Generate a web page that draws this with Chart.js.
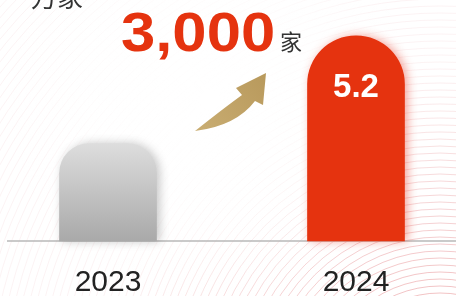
<!DOCTYPE html>
<html>
<head>
<meta charset="utf-8">
<script src="https://cdn.jsdelivr.net/npm/chart.js@4.4.1/dist/chart.umd.min.js"></script>
<style>
  html, body { margin: 0; padding: 0; background: #fff; }
  #wrap { width: 456px; height: 296px; position: relative; }
</style>
</head>
<body>
<div id="wrap"><canvas id="growthChart"></canvas></div>
<script>
// 数据
const years = ['2023', '2024'];
const counts = [4.9, 5.2];          // 万家
const unitLabel = '万家';
const growthText = '3,000';
const growthUnit = '家';

const Y_MIN = 4.628;
const Y_MAX = 5.25;
const RED = '#e5330f';
const CJK = "'Noto Sans CJK SC', sans-serif";
const LATIN = "'Liberation Sans', Arial, sans-serif";

// 背景同心圆 + 底线 + 标注
const decoPlugin = {
    id: 'deco',
    beforeDraw(chart) {
        const ctx = chart.ctx;
        ctx.save();
        ctx.lineWidth = 0.9;
        for (let r = 30; r < 600; r += 7) {
            const a = Math.max(0.07, 0.5 - r / 800);
            ctx.strokeStyle = 'rgba(215, 70, 75,' + a + ')';
            ctx.beginPath();
            ctx.arc(440, 400, r, 0, Math.PI * 2);
            ctx.stroke();
        }
        // 柔化中间区域
        const g = ctx.createRadialGradient(210, 100, 10, 210, 100, 200);
        g.addColorStop(0, 'rgba(255,255,255,0.97)');
        g.addColorStop(0.6, 'rgba(255,255,255,0.65)');
        g.addColorStop(1, 'rgba(255,255,255,0)');
        ctx.fillStyle = g;
        ctx.fillRect(0, 0, chart.width, chart.height);
        ctx.restore();
    },
    beforeDatasetsDraw(chart) {
        const ctx = chart.ctx;
        const y0 = chart.scales.y.getPixelForValue(Y_MIN);
        ctx.save();
        ctx.strokeStyle = '#b8b8b8';
        ctx.lineWidth = 1.5;
        ctx.beginPath();
        ctx.moveTo(7, y0);
        ctx.lineTo(chart.width, y0);
        ctx.stroke();
        ctx.restore();
    },
    afterDatasetsDraw(chart) {
        const ctx = chart.ctx;
        ctx.save();
        // 单位
        ctx.fillStyle = '#333';
        ctx.font = '26px ' + CJK;
        ctx.textBaseline = 'alphabetic';
        ctx.fillText(unitLabel, 31, 7);

        // 增长数字
        ctx.save();
        ctx.translate(121, 51);
        ctx.scale(1.1, 1);
        ctx.fillStyle = RED;
        ctx.font = 'bold 56px ' + LATIN;
        ctx.fillText(growthText, 0, 0);
        ctx.restore();
        ctx.fillStyle = '#333';
        ctx.font = '22px ' + CJK;
        ctx.fillText(growthUnit, 280, 50);

        // 金色箭头
        const ag = ctx.createLinearGradient(195, 130, 266, 73);
        ag.addColorStop(0, '#c9ad72');
        ag.addColorStop(1, '#b8995c');
        ctx.fillStyle = ag;
        ctx.beginPath();
        ctx.moveTo(195, 131);
        ctx.quadraticCurveTo(224, 108, 242, 95);
        ctx.lineTo(236, 88);
        ctx.lineTo(266, 73);
        ctx.lineTo(263, 105);
        ctx.lineTo(255, 101);
        ctx.quadraticCurveTo(236, 126, 195, 131);
        ctx.closePath();
        ctx.fill();

        // 柱内数值
        const meta = chart.getDatasetMeta(0);
        const bar = meta.data[1];
        ctx.fillStyle = '#fff';
        ctx.font = 'bold 33px ' + LATIN;
        ctx.textAlign = 'center';
        ctx.textBaseline = 'middle';
        ctx.fillText(String(counts[1]), bar.x, bar.y + 52);
        ctx.restore();
    },
    beforeDatasetDraw(chart, args) {
        const ctx = chart.ctx;
        const shadows = ['rgba(0,0,0,0.22)', 'rgba(230,60,40,0.45)'];
        args.meta.data.forEach(function (el, i) {
            ctx.save();
            ctx.shadowColor = shadows[i];
            ctx.shadowBlur = 10;
            ctx.shadowOffsetX = 3;
            ctx.shadowOffsetY = 0;
            el.draw(ctx);
            ctx.restore();
        });
        return false;
    }
};

const ctx = document.getElementById('growthChart');

new Chart(ctx.getContext('2d'), {
    type: 'bar',
    data: {
        labels: years,
        datasets: [{
            data: counts,
            base: Y_MIN,
            clip: false,
            barThickness: 97,
            borderSkipped: 'bottom',
            borderRadius: function (c) {
                return c.dataIndex === 0
                    ? { topLeft: 30, topRight: 30, bottomLeft: 0, bottomRight: 0 }
                    : { topLeft: 49, topRight: 49, bottomLeft: 0, bottomRight: 0 };
            },
            backgroundColor: function (c) {
                if (c.dataIndex === 1) return RED;
                const chart = c.chart;
                if (!chart.chartArea || !chart.scales.y) return '#c4c4c4';
                const top = chart.scales.y.getPixelForValue(counts[0]);
                const bottom = chart.scales.y.getPixelForValue(Y_MIN);
                const g = chart.ctx.createLinearGradient(0, top, 0, bottom);
                g.addColorStop(0, '#dddddd');
                g.addColorStop(1, '#a9a9a9');
                return g;
            }
        }]
    },
    options: {
        responsive: true,
        maintainAspectRatio: false,
        animation: false,
        layout: { padding: { left: 108, right: 100, top: 18, bottom: -29 } },
        plugins: {
            legend: { display: false },
            tooltip: { enabled: false }
        },
        scales: {
            x: {
                offset: false,
                grid: { display: false, drawTicks: false },
                border: { display: false },
                ticks: {
                    color: '#222',
                    padding: 27,
                    maxRotation: 0,
                    font: { family: LATIN, size: 30, lineHeight: 1 }
                }
            },
            y: {
                display: false,
                beginAtZero: false,
                min: Y_MIN,
                max: Y_MAX
            }
        }
    },
    plugins: [decoPlugin]
});
</script>
</body>
</html>
